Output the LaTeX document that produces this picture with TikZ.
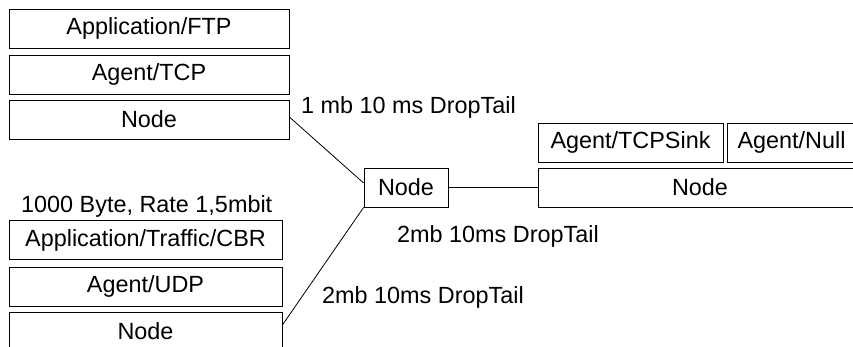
\documentclass[tikz,border=0pt]{standalone}
\usepackage{fontspec}
\setmainfont{Liberation Sans}
\begin{document}
\begin{tikzpicture}[x=1pt,y=-1pt,
  font=\fontsize{23.4}{28}\selectfont,
  box/.style={draw=black,line width=0.8pt,inner sep=0pt,minimum height=39pt,anchor=center},
  lbl/.style={inner sep=0pt,anchor=base west},
  link/.style={draw=black,line width=0.8pt}]
\useasboundingbox (0,0) rectangle (853,346);
% upper left stack
\node[box,minimum width=280pt] (ftp) at (149,28.5) {Application/FTP};
\node[box,minimum width=280pt] (tcp) at (149,74.5) {Agent/TCP};
\node[box,minimum width=280pt] (n1) at (149,119.5) {Node};
% lower left stack
\node[lbl] (rate) at (21,212) {1000 Byte, Rate 1,5mbit};
\node[box,minimum width=273pt] (cbr) at (145.5,240) {Application/Traffic/CBR};
\node[box,minimum width=273pt] (udp) at (145.5,286.5) {Agent/UDP};
\node[box,minimum width=273pt] (n2) at (145.5,331.5) {Node};
% centre node
\node[box,minimum width=84pt] (c) at (406,187.5) {Node};
% right stack
\node[box,minimum width=185pt] (sink) at (630.5,142.5) {Agent/TCPSink};
\node[box,minimum width=129pt] (null) at (791.5,142.5) {Agent/Null};
\node[box,minimum width=324pt] (r) at (700,187.5) {Node};
% links
\draw[link] ([yshift=2.5pt]n1.east) -- ([yshift=4.5pt]c.west);
\draw[link] ([yshift=6.5pt]n2.east) -- (c.south west);
\draw[link] (c.east) -- (r.west);
% link labels
\node[lbl] (l1) at (301,113) {1 mb 10 ms DropTail};
\node[lbl] (l2) at (397,242) {2mb 10ms DropTail};
\node[lbl] (l3) at (322,303) {2mb 10ms DropTail};
\end{tikzpicture}
\end{document}
